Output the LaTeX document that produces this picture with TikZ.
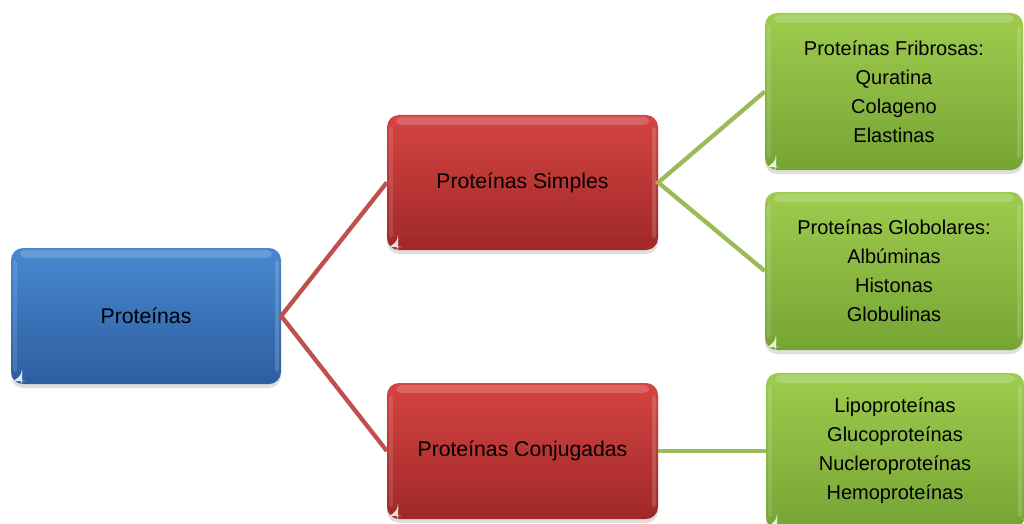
\documentclass[tikz,border=0pt]{standalone}
\usepackage{fontspec}
\setmainfont{Liberation Sans}
\usetikzlibrary{shadows}
\definecolor{bluetop}{RGB}{72,136,208}
\definecolor{bluebot}{RGB}{44,94,160}
\definecolor{redtop}{RGB}{212,68,66}
\definecolor{redbot}{RGB}{160,40,40}
\definecolor{greentop}{RGB}{158,204,78}
\definecolor{greenbot}{RGB}{118,164,52}
\definecolor{redline}{RGB}{192,80,77}
\definecolor{greenline}{RGB}{155,187,89}
\tikzset{
  boxbase/.style={rounded corners=12pt, align=center, inner sep=0pt,
    font=\fontsize{21.2}{29}\selectfont,
    drop shadow={opacity=0.25, shadow xshift=0pt, shadow yshift=-4pt},
    path picture={
      \fill[white,opacity=0.18,rounded corners=5pt]
        ([xshift=9pt,yshift=-2pt]path picture bounding box.north west)
        rectangle ([xshift=-9pt,yshift=-10pt]path picture bounding box.north east);
      \fill[white,opacity=0.16,rounded corners=3pt]
        ([xshift=-6pt,yshift=-12pt]path picture bounding box.north east)
        rectangle ([xshift=-2pt,yshift=12pt]path picture bounding box.south east);
      \fill[white,opacity=0.12,rounded corners=3pt]
        ([xshift=2pt,yshift=-12pt]path picture bounding box.north west)
        rectangle ([xshift=6pt,yshift=12pt]path picture bounding box.south west);
      \fill[white,opacity=0.85]
        ([xshift=3pt,yshift=3pt]path picture bounding box.south west)
        -- ([xshift=11pt,yshift=3pt]path picture bounding box.south west)
        -- ([xshift=11pt,yshift=10pt]path picture bounding box.south west) -- cycle;
    }},
  bluebox/.style={boxbase, top color=bluetop, bottom color=bluebot},
  redbox/.style={boxbase, top color=redtop, bottom color=redbot},
  greenbox/.style={boxbase, top color=greentop, bottom color=greenbot,
    font=\fontsize{20}{29}\selectfont},
  redlink/.style={draw=redline, line width=4.3pt},
  greenlink/.style={draw=greenline, line width=4.3pt}
}
\begin{document}
\begin{tikzpicture}[x=1pt,y=-1pt]
\useasboundingbox (0,0) rectangle (1024,524);
\fill[white] (0,0) rectangle (1024,524);

% boxes
\node[bluebox, minimum width=270pt, minimum height=136pt] (root) at (146,316) {Proteínas};
\node[redbox, minimum width=271pt, minimum height=135pt] (simple) at (522.5,182.5) {Proteínas Simples};
\node[redbox, minimum width=271pt, minimum height=136pt] (conj) at (522.5,451) {Proteínas Conjugadas};
\node[greenbox, minimum width=258pt, minimum height=157pt] (fib) at (894,91.5)
  {Proteínas Fribrosas:\\Quratina\\Colageno\\Elastinas};
\node[greenbox, minimum width=258pt, minimum height=158pt] (glo) at (894,271)
  {Proteínas Globolares:\\Albúminas\\Histonas\\Globulinas};
\node[greenbox, minimum width=258pt, minimum height=156pt] (lip) at (895,451)
  {Lipoproteínas\\Glucoproteínas\\Nucleroproteínas\\Hemoproteínas};

% connectors
\draw[redlink, line join=miter] (simple.west) -- (root.east) -- (conj.west);
\draw[greenlink, line join=miter] (fib.west) -- (simple.east) -- (glo.west);
\draw[greenlink] (conj.east) -- (lip.west);
\end{tikzpicture}
\end{document}
